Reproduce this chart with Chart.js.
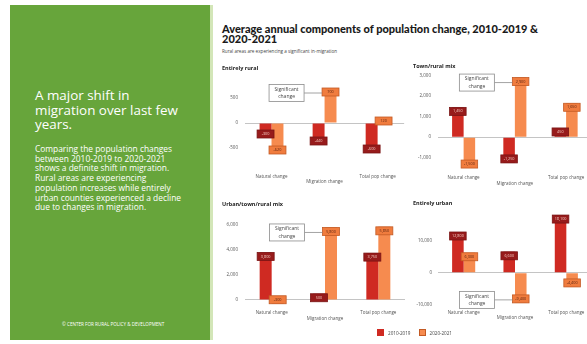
<!DOCTYPE html>
<html>
<head>
<meta charset="utf-8">
<script src="https://cdn.jsdelivr.net/npm/chart.js@4.4.0/dist/chart.umd.min.js"></script>
<style>
  html, body { margin: 0; padding: 0; }
  body { width: 587px; height: 344px; overflow: hidden; position: relative; background: #fff; font-family: "Open Sans", sans-serif; }
  #side { position: absolute; left: 10px; top: 5px; width: 200px; height: 335px; background: #67a53b; border-right: 3px solid #d3e6b8; color: #fff; }
  #side h1 { position: absolute; left: 25px; top: 83px; width: 175px; margin: 0; font-weight: 400; font-size: 13.4px; line-height: 14.5px; white-space: nowrap; }
  #side p { position: absolute; left: 25px; top: 139px; width: 175px; margin: 0; font-size: 8.4px; line-height: 9.7px; white-space: nowrap; }
  #side .foot { position: absolute; left: 52px; top: 316px; font-size: 4.6px; }
  #title { position: absolute; left: 222px; top: 24px; width: 360px; margin: 0; font-family: Lato, sans-serif; font-weight: 900; font-size: 11px; line-height: 9.5px; color: #1a1a1a; white-space: nowrap; }
  #sub { position: absolute; left: 222px; top: 48px; font-size: 4.6px; color: #444; }
  .panel { position: absolute; }
  #legend { position: absolute; left: 377px; top: 329px; font-size: 4.6px; color: #444; display: flex; align-items: center; }
  #legend .sw { width: 7px; height: 7px; display: inline-block; margin-right: 4px; box-sizing: border-box; }
  #legend span.t { margin-right: 8px; }
</style>
</head>
<body>
<div id="side">
  <h1>A major shift in<br>migration over last few<br>years.</h1>
  <p>Comparing the population changes<br>between 2010-2019 to 2020-2021<br>shows a definite shift in migration.<br>Rural areas are experiencing<br>population increases while entirely<br>urban counties experienced a decline<br>due to changes in migration.</p>
  <div class="foot">© CENTER FOR RURAL POLICY &amp; DEVELOPMENT</div>
</div>
<div id="title">Average annual components of population change, 2010-2019 &amp;<br>2020-2021</div>
<div id="sub">Rural areas are experiencing a significant in-migration</div>

<canvas id="c1" class="panel" width="185" height="130" style="left:222px;top:60px"></canvas>
<canvas id="c2" class="panel" width="181" height="133" style="left:413px;top:60px"></canvas>
<canvas id="c3" class="panel" width="185" height="137" style="left:222px;top:195px"></canvas>
<canvas id="c4" class="panel" width="181" height="140" style="left:413px;top:195px"></canvas>

<div id="legend">
  <span class="sw" style="background:#cf2a22"></span><span class="t">2010-2019</span>
  <span class="sw" style="background:#f68b4f;border:1px solid #c35a24"></span><span class="t">2020-2021</span>
</div>

<script>
// categories and series
const categories = ['Natural change', 'Migration change', 'Total pop change'];
const seriesNames = ['2010-2019', '2020-2021'];

// Entirely rural
const ruralPast = [-300, -440, -600];
const ruralRecent = [-620, 700, 120];
const ruralTicks = [-500, 0, 500];

// Town/rural mix
const townPast = [1450, -1250, 450];
const townRecent = [-1500, 2900, 1650];
const townTicks = [-1000, 0, 1000, 2000, 3000];

// Urban/town/rural mix
const mixPast = [3800, 500, 3750];
const mixRecent = [-300, 5800, 5850];
const mixTicks = [0, 2000, 4000, 6000];

// Entirely urban
const urbanPast = [12800, 6600, 18100];
const urbanRecent = [6300, -9400, -4400];
const urbanTicks = [-10000, 0, 10000];

const darkRed = '#cf2a22';
const orange = '#f68b4f';

function fmt(v) {
  return v.toLocaleString('en-US');
}

// value boxes sitting on the end of every bar
const valueBoxes = {
  id: 'valueBoxes',
  afterDatasetsDraw(chart, args, opts) {
    const ctx = chart.ctx;
    chart.data.datasets.forEach((ds, di) => {
      const meta = chart.getDatasetMeta(di);
      meta.data.forEach((bar, i) => {
        const v = ds.data[i];
        const w = bar.width + 5, h = 8;
        const y0 = v >= 0 ? bar.y : bar.y - h;
        ctx.save();
        ctx.fillStyle = opts.fills[di];
        ctx.fillRect(bar.x - w / 2, y0, w, h);
        ctx.strokeStyle = opts.lines[di];
        ctx.lineWidth = 0.8;
        ctx.strokeRect(bar.x - w / 2, y0, w, h);
        ctx.fillStyle = opts.texts[di];
        ctx.font = '3.8px "Open Sans"';
        ctx.textAlign = 'center';
        ctx.textBaseline = 'middle';
        ctx.fillText(fmt(v), bar.x, y0 + h / 2);
        ctx.restore();
      });
    });
  }
};

// "Significant change" note pointing at one bar
const callout = {
  id: 'callout',
  afterDatasetsDraw(chart, args, opts) {
    const ctx = chart.ctx;
    const bar = chart.getDatasetMeta(opts.dataset).data[opts.index];
    const v = chart.data.datasets[opts.dataset].data[opts.index];
    const cy = v >= 0 ? bar.y + 5 : bar.y - 3;
    const labelLeft = bar.x - (bar.width + 5) / 2;
    const right = labelLeft - 18;
    const w = 35, h = 17;
    ctx.save();
    ctx.strokeStyle = '#8c8c8c';
    ctx.lineWidth = 0.8;
    ctx.beginPath();
    ctx.moveTo(right, cy);
    ctx.lineTo(labelLeft, cy);
    ctx.stroke();
    ctx.fillStyle = '#fff';
    ctx.fillRect(right - w, cy - h / 2, w, h);
    ctx.strokeRect(right - w, cy - h / 2, w, h);
    ctx.fillStyle = '#444';
    ctx.font = '5px "Open Sans"';
    ctx.textAlign = 'center';
    ctx.textBaseline = 'middle';
    ctx.fillText('Significant', right - w / 2, cy - 3.5);
    ctx.fillText('change', right - w / 2, cy + 4);
    ctx.restore();
  }
};

function makeChart(id, title, past, recent, ticks, min, max, cfg) {
  return new Chart(document.getElementById(id), {
    type: 'bar',
    data: {
      labels: [categories[0], ['', categories[1]], categories[2]],
      datasets: [
        { label: seriesNames[0], data: past, backgroundColor: darkRed, borderWidth: 0 },
        { label: seriesNames[1], data: recent, backgroundColor: orange, borderWidth: 0 }
      ]
    },
    options: {
      responsive: false,
      animation: false,
      devicePixelRatio: 1,
      layout: { padding: { left: 0, right: 2, top: 0, bottom: 0 } },
      datasets: { bar: { categoryPercentage: 0.45, barPercentage: 1.0 } },
      plugins: {
        legend: { display: false },
        tooltip: { enabled: false },
        title: {
          display: true, text: title, align: 'start', color: '#222',
          font: { size: 5.5, weight: 'bold', family: '"Open Sans"' },
          padding: { top: cfg.titleTop, bottom: cfg.titleBottom }
        },
        valueBoxes: {
          fills: ['#971b1b', '#f07c3e'],
          lines: ['#7a1414', '#c35a24'],
          texts: ['#f3c9c0', '#5a2412']
        },
        callout: { dataset: 1, index: 1 }
      },
      scales: {
        x: {
          grid: { display: false, drawTicks: false },
          border: { display: false },
          ticks: { color: '#555', font: { size: 4.5, family: '"Open Sans"' }, padding: cfg.xPad, maxRotation: 0, autoSkip: false },
          afterFit: s => { s.height = 27; }
        },
        y: {
          min: min, max: max,
          grid: {
            drawTicks: false,
            color: c => (c.tick && c.tick.value === 0 ? '#c4c4c4' : 'rgba(0,0,0,0)'),
            lineWidth: 1
          },
          border: { display: false },
          ticks: { color: '#555', font: { size: 4.5, family: '"Open Sans"' }, padding: cfg.yPad, callback: v => fmt(v) },
          afterBuildTicks: s => { s.ticks = ticks.map(v => ({ value: v })); },
          afterFit: s => { s.width = cfg.yWidth; }
        }
      }
    },
    plugins: [valueBoxes, callout]
  });
}

makeChart('c1', 'Entirely rural', ruralPast, ruralRecent, ruralTicks, -800, 800,
  { titleTop: 4.7, titleBottom: 11.7, xPad: 11, yPad: 7, yWidth: 23 });
makeChart('c2', 'Town/rural mix', townPast, townRecent, townTicks, -1400, 3200,
  { titleTop: 2.7, titleBottom: 2.1, xPad: 9.5, yPad: 7, yWidth: 25 });
makeChart('c3', 'Urban/town/rural mix', mixPast, mixRecent, mixTicks, -400, 6500,
  { titleTop: 5.7, titleBottom: 11.4, xPad: 5.5, yPad: 7, yWidth: 23 });
makeChart('c4', 'Entirely urban', urbanPast, urbanRecent, urbanTicks, -11000, 19500,
  { titleTop: 4.7, titleBottom: 4.3, xPad: 2, yPad: 6, yWidth: 25 });
</script>
</body>
</html>
